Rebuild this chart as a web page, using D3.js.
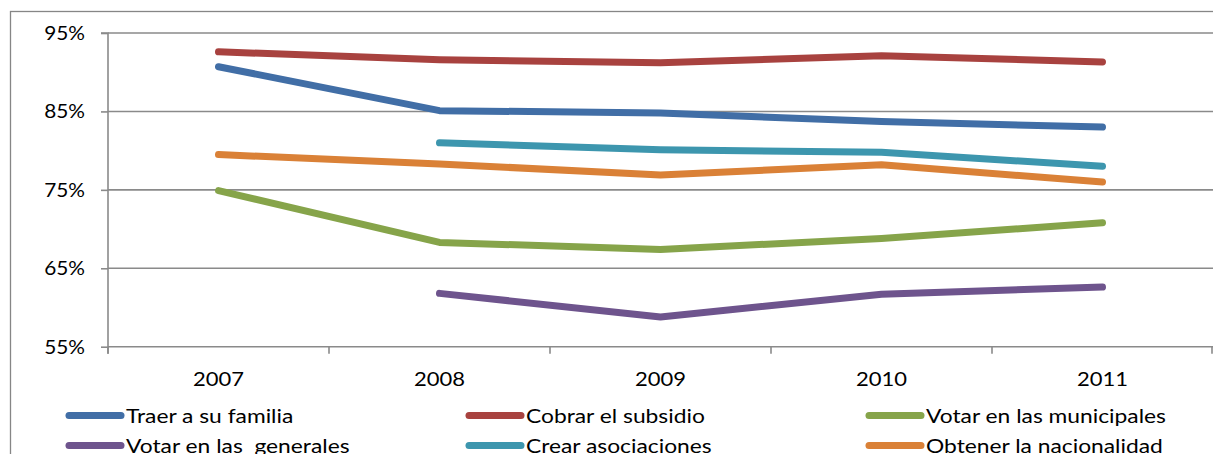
<!DOCTYPE html>
<html><head><meta charset="utf-8">
<script src="https://cdn.jsdelivr.net/npm/d3@7"></script>
<style>
html,body{margin:0;padding:0;background:#fff;overflow:hidden}
text{font-family:Lato,"Open Sans",sans-serif;fill:#000}
</style></head>
<body><svg id="c" width="1213" height="454"></svg>
<script>
const years = ["2007","2008","2009","2010","2011"];
const seriesNames = ["Traer a su familia","Cobrar el subsidio","Votar en las municipales","Votar en las  generales","Crear asociaciones","Obtener la nacionalidad"];
const traer = [90.7, 85.1, 84.8, 83.7, 83.0];
const cobrar = [92.6, 91.6, 91.2, 92.1, 91.3];
const municipales = [74.9, 68.3, 67.4, 68.8, 70.8];
const generales = [null, 61.8, 58.8, 61.7, 62.6];
const crear = [null, 81.0, 80.1, 79.8, 78.0];
const nacionalidad = [79.5, 78.3, 76.9, 78.2, 76.0];
const yTicks = [55, 65, 75, 85, 95];
const colors = ["#416EA6","#A8423F","#86A44A","#6E548D","#3D96AE","#DA8137"];

const seriesVals = [traer, cobrar, municipales, generales, crear, nacionalidad];
const svg = d3.select("#c");
const L = 108, R = 1213, T = 33, B = 346.7;
const x = d3.scaleBand().domain(years).range([L, R]).padding(0);
const y = d3.scaleLinear().domain([55, 95]).range([B, T]);
const cx = d => x(d) + x.bandwidth() / 2;

// outer border
svg.append("rect").attr("x", 10.5).attr("y", 11.5).attr("width", 1400).attr("height", 600)
  .attr("fill", "none").attr("stroke", "#868686").attr("stroke-width", 1.3);

// gridlines
svg.append("g").selectAll("line").data(yTicks.filter(t => t > 55)).join("line")
  .attr("x1", L).attr("x2", R).attr("y1", d => y(d)).attr("y2", d => y(d))
  .attr("stroke", "#8a8a8a").attr("stroke-width", 1.6);

// y axis
const ya = svg.append("g").attr("transform", `translate(${L},0)`)
  .call(d3.axisLeft(y).tickValues(yTicks).tickFormat(d => d + "%").tickSize(7).tickPadding(16));
ya.select(".domain").attr("stroke", "#8a8a8a").attr("stroke-width", 1.6).attr("d", `M-7,${T}H0V${B + 7}`);
ya.selectAll(".tick line").attr("stroke", "#8a8a8a").attr("stroke-width", 1.6);
ya.selectAll(".tick text").style("font-size", "20px").attr("fill", "#000")
  .attr("x", -23 / 1.04).attr("transform", "scale(1.04,1)");

// x axis
const xa = svg.append("g").attr("transform", `translate(0,${B})`)
  .call(d3.axisBottom(x).tickSize(0).tickPadding(25));
xa.select(".domain").attr("stroke", "#8a8a8a").attr("stroke-width", 1.6).attr("d", `M${L},0H${R}`);
xa.selectAll(".tick text").style("font-size", "20px").attr("fill", "#000")
  .attr("transform", "scale(1.1,1)");
const bounds = years.map(d => x(d)).concat([R - 1]);
xa.selectAll("line.bt").data(bounds).join("line").attr("class", "bt")
  .attr("x1", d => d).attr("x2", d => d).attr("y1", 0).attr("y2", 7)
  .attr("stroke", "#8a8a8a").attr("stroke-width", 1.6);

// lines
const line = d3.line().defined(d => d.v != null).x(d => cx(d.k)).y(d => y(d.v));
seriesVals.forEach((vals, i) => {
  svg.append("path").datum(years.map((k, j) => ({k, v: vals[j]})))
    .attr("d", line).attr("fill", "none").attr("stroke", colors[i])
    .attr("stroke-width", 7).attr("stroke-linecap", "round").attr("stroke-linejoin", "round");
});

// legend
const lg = svg.append("g");
seriesNames.forEach((n, i) => {
  const col = i % 3, row = Math.floor(i / 3);
  const lx = 66 + col * 400, ly = 415.5 + row * 30;
  lg.append("line").attr("x1", lx + 3).attr("x2", lx + 55).attr("y1", ly).attr("y2", ly)
    .attr("stroke", colors[i]).attr("stroke-width", 7).attr("stroke-linecap", "round");
  lg.append("text").attr("transform", `translate(${lx + 60},${ly}) scale(1.14,1)`)
    .attr("dy", "0.35em").style("font-size", "20px").style("white-space", "pre").text(n);
});
</script></body></html>
